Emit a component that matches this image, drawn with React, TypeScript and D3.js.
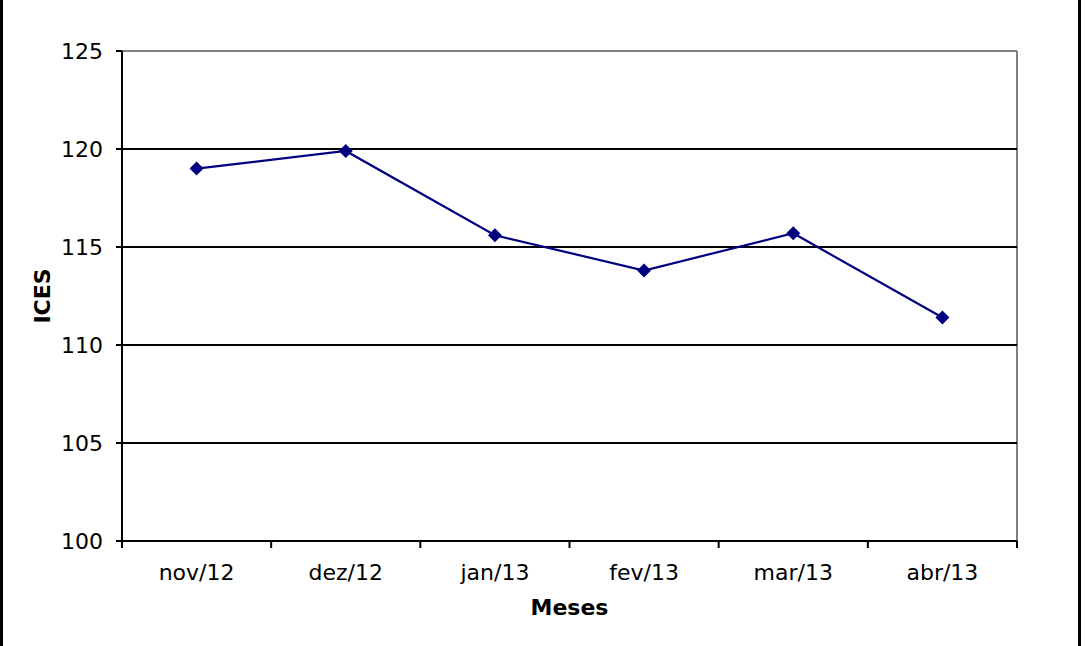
import React from "react";
import * as d3 from "d3";

const categories = ["nov/12", "dez/12", "jan/13", "fev/13", "mar/13", "abr/13"];
const values = [119.0, 119.9, 115.6, 113.8, 115.7, 111.4];
const yTicks = [100, 105, 110, 115, 120, 125];

const W = 1085;
const H = 646;
const M = { left: 122, right: 1017, top: 51, bottom: 541 };
const FONT = "Verdana, 'DejaVu Sans', sans-serif";

export default function App() {
  const x = d3.scaleBand<string>().domain(categories).range([M.left, M.right]);
  const y = d3.scaleLinear().domain([100, 125]).range([M.bottom, M.top]);
  const line = d3
    .line<number>()
    .x((_, i) => (x(categories[i]) as number) + x.bandwidth() / 2)
    .y((d) => y(d));
  const boundaries = categories.map((c) => x(c) as number).concat([M.right]);
  const diamond = (cx: number, cy: number, r: number) =>
    `M${cx},${cy - r}L${cx + r},${cy}L${cx},${cy + r}L${cx - r},${cy}Z`;

  return (
    <svg
      width={W}
      height={H}
      style={{ position: "absolute", left: 0, top: 0, background: "#fff" }}
      fontFamily={FONT}
    >
      <rect x={0} y={0} width={W} height={H} fill="#fff" />
      {/* outer frame */}
      <line x1={1.5} x2={1.5} y1={0} y2={H} stroke="#000" strokeWidth={3} />
      <line x1={1079.5} x2={1079.5} y1={0} y2={H} stroke="#000" strokeWidth={3} />
      {/* plot area border (gray top/right) */}
      <line x1={M.left} x2={M.right} y1={y(125)} y2={y(125)} stroke="#808080" strokeWidth={2} />
      <line x1={M.right} x2={M.right} y1={M.top} y2={M.bottom} stroke="#808080" strokeWidth={2} />
      {/* gridlines */}
      {yTicks
        .filter((t) => t !== 100 && t !== 125)
        .map((t) => (
          <line key={t} x1={M.left} x2={M.right} y1={y(t)} y2={y(t)} stroke="#000" strokeWidth={2} />
        ))}
      {/* y axis */}
      <line x1={M.left} x2={M.left} y1={M.top} y2={M.bottom} stroke="#000" strokeWidth={2} />
      {yTicks.map((t) => (
        <g key={t}>
          <line x1={M.left - 6} x2={M.left} y1={y(t)} y2={y(t)} stroke="#000" strokeWidth={2} />
          <text x={103} y={y(t)} dy="0.35em" textAnchor="end" fontSize={22} fill="#000">
            {t}
          </text>
        </g>
      ))}
      {/* x axis */}
      <line x1={M.left} x2={M.right} y1={M.bottom} y2={M.bottom} stroke="#000" strokeWidth={2} />
      {boundaries.map((b, i) => (
        <line key={i} x1={b} x2={b} y1={M.bottom} y2={M.bottom + 7} stroke="#000" strokeWidth={2} />
      ))}
      {categories.map((c) => (
        <text
          key={c}
          x={(x(c) as number) + x.bandwidth() / 2}
          y={580}
          textAnchor="middle"
          fontSize={22}
          fill="#000"
        >
          {c}
        </text>
      ))}
      {/* axis titles */}
      <text x={(M.left + M.right) / 2} y={615} textAnchor="middle" fontSize={22} fontWeight="bold" fill="#000">
        Meses
      </text>
      <text
        transform={`translate(50,${(M.top + M.bottom) / 2}) rotate(-90)`}
        textAnchor="middle"
        fontSize={22}
        fontWeight="bold"
        fill="#000"
      >
        ICES
      </text>
      {/* series */}
      <path d={line(values) || ""} fill="none" stroke="#000080" strokeWidth={2.2} />
      {values.map((v, i) => (
        <path
          key={i}
          d={diamond((x(categories[i]) as number) + x.bandwidth() / 2, y(v), 7)}
          fill="#000080"
        />
      ))}
    </svg>
  );
}
